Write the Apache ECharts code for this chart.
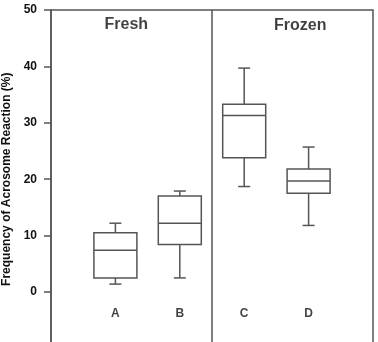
<!DOCTYPE html>
<html>
<head>
<meta charset="utf-8">
<script src="https://cdn.jsdelivr.net/npm/echarts@6/dist/echarts.min.js"></script>
<style>
html,body{margin:0;padding:0;background:#fff;}
#box{width:378px;height:342px;}
</style>
</head>
<body>
<div id="box"></div>
<script>
// 数据
var groups = ['A', 'B', 'C', 'D'];
var groupX = [1, 2, 3, 4];
var lowWhisker = [1.4, 2.5, 18.7, 11.8];
var q1 = [2.5, 8.4, 23.8, 17.5];
var median = [7.4, 12.2, 31.3, 19.7];
var q3 = [10.5, 17.0, 33.3, 21.8];
var highWhisker = [12.2, 17.9, 39.7, 25.7];
var panelNames = ['Fresh', 'Frozen'];
var panelX = [1.17, 3.87];
var panelY = [47.5, 47.2];
var dividerX = 2.5;
var letterY = -3.8;
var yTicks = [0, 10, 20, 30, 40, 50];

var lineColor = '#555';
var boxData = [];
for (var i = 0; i < groups.length; i++) {
  boxData.push([groupX[i], lowWhisker[i], q1[i], median[i], q3[i], highWhisker[i]]);
}

function renderBox(params, api) {
  var x = api.value(0);
  var pLow = api.coord([x, api.value(1)]);
  var pQ1 = api.coord([x, api.value(2)]);
  var pMed = api.coord([x, api.value(3)]);
  var pQ3 = api.coord([x, api.value(4)]);
  var pHigh = api.coord([x, api.value(5)]);
  var half = 21.5;   // 箱子半宽
  var cap = 6;       // 须线端帽半宽
  var cx = pMed[0];
  var st = { stroke: lineColor, lineWidth: 1.5, fill: null };
  return {
    type: 'group',
    children: [
      { type: 'rect', shape: { x: cx - half, y: pQ3[1], width: half * 2, height: pQ1[1] - pQ3[1] }, style: st },
      { type: 'line', shape: { x1: cx - half, y1: pMed[1], x2: cx + half, y2: pMed[1] }, style: st },
      { type: 'line', shape: { x1: cx, y1: pQ3[1], x2: cx, y2: pHigh[1] }, style: st },
      { type: 'line', shape: { x1: cx, y1: pQ1[1], x2: cx, y2: pLow[1] }, style: st },
      { type: 'line', shape: { x1: cx - cap, y1: pHigh[1], x2: cx + cap, y2: pHigh[1] }, style: st },
      { type: 'line', shape: { x1: cx - cap, y1: pLow[1], x2: cx + cap, y2: pLow[1] }, style: st }
    ]
  };
}

var letterData = [];
for (var j = 0; j < groups.length; j++) {
  letterData.push({ value: [groupX[j], letterY], name: groups[j] });
}
var panelData = [];
for (var k = 0; k < panelNames.length; k++) {
  panelData.push({ value: [panelX[k], panelY[k]], name: panelNames[k] });
}

var myChart = echarts.init(document.getElementById('box'));
var option = {
  animation: false,
  backgroundColor: '#fff',
  textStyle: { fontFamily: 'Liberation Sans, Arial, sans-serif' },
  grid: {
    left: 51,
    right: 5,
    top: 10,
    bottom: -6.4,
    containLabel: false,
    outerBoundsMode: 'none',
    show: true,
    borderColor: lineColor,
    borderWidth: 1.5
  },
  xAxis: {
    type: 'value',
    min: 0,
    max: 5,
    show: false
  },
  yAxis: {
    type: 'value',
    min: -10,
    max: 50,
    interval: 10,
    name: 'Frequency of Acrosome Reaction (%)',
    nameLocation: 'middle',
    nameGap: 37,
    nameTextStyle: { color: '#111', fontSize: 12, fontWeight: 'bold' },
    splitLine: { show: false },
    axisLine: { show: true, lineStyle: { color: lineColor, width: 1.5 } },
    axisTick: { show: true, length: 7, lineStyle: { color: lineColor, width: 1.5 } },
    axisLabel: {
      color: '#111',
      fontSize: 12,
      fontWeight: 'bold',
      margin: 14,
      formatter: function (v) {
        return yTicks.indexOf(v) >= 0 ? String(v) : '';
      }
    }
  },
  series: [
    {
      type: 'custom',
      renderItem: renderBox,
      data: boxData,
      encode: { x: 0, y: [1, 2, 3, 4, 5] },
      markLine: {
        silent: true,
        symbol: 'none',
        label: { show: false },
        lineStyle: { color: lineColor, width: 1.5, type: 'solid' },
        data: [{ xAxis: dividerX }]
      },
      z: 3
    },
    {
      type: 'scatter',
      data: letterData,
      symbolSize: 0,
      label: {
        show: true,
        position: 'inside',
        formatter: '{b}',
        color: '#111',
        fontSize: 12,
        fontWeight: 'bold'
      }
    },
    {
      type: 'scatter',
      data: panelData,
      symbolSize: 0,
      label: {
        show: true,
        position: 'inside',
        formatter: '{b}',
        color: '#111',
        fontSize: 16,
        fontWeight: 'bold'
      }
    }
  ]
};
myChart.setOption(option);
window.onresize = function () {
  myChart.resize();
};
</script>
</body>
</html>
